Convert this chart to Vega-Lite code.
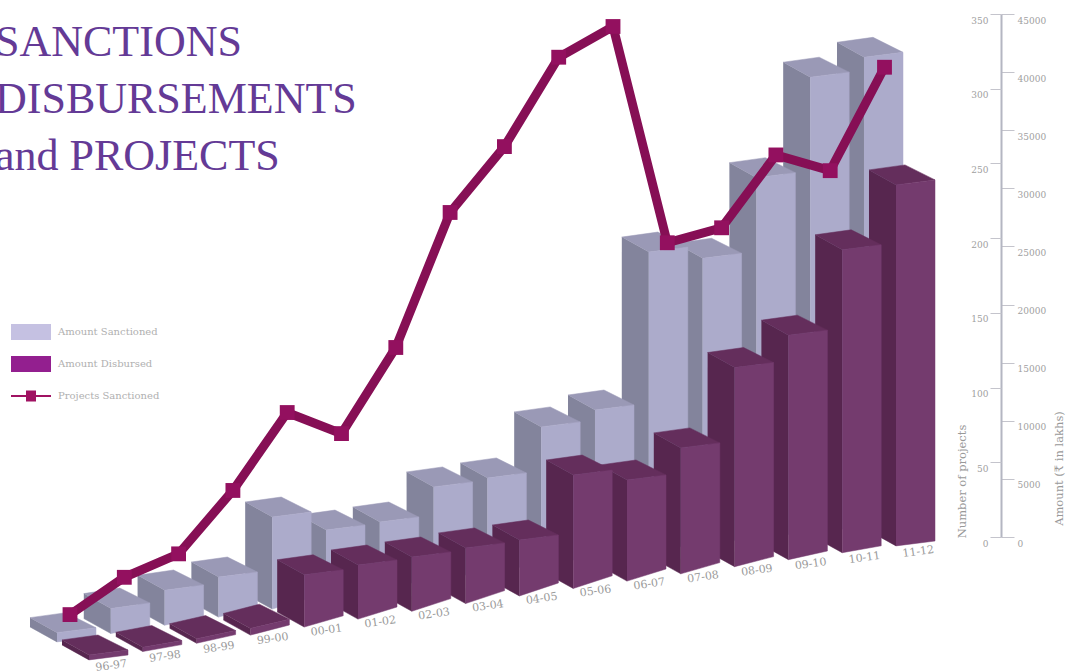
{
  "$schema": "https://vega.github.io/schema/vega-lite/v6.json",
  "width": 807,
  "height": 523,
  "autosize": "none",
  "padding": {"left": 128, "right": 131, "top": 14, "bottom": 135},
  "background": "white",
  "view": {"stroke": null},
  "title": {
    "text": ["SANCTIONS", "DISBURSEMENTS", "and PROJECTS"],
    "anchor": "start",
    "frame": "group",
    "dx": -133,
    "dy": 174,
    "font": "Liberation Serif",
    "fontSize": 44,
    "fontWeight": "normal",
    "lineHeight": 57,
    "color": "#643a96"
  },
  "datasets": {
    "bars": [
      {"year": "11-12", "series": "Amount Sanctioned", "amount": 40500},
      {"year": "10-11", "series": "Amount Sanctioned", "amount": 39200},
      {"year": "09-10", "series": "Amount Sanctioned", "amount": 31000},
      {"year": "08-09", "series": "Amount Sanctioned", "amount": 24550},
      {"year": "07-08", "series": "Amount Sanctioned", "amount": 25600},
      {"year": "06-07", "series": "Amount Sanctioned", "amount": 12560},
      {"year": "05-06", "series": "Amount Sanctioned", "amount": 11690},
      {"year": "04-05", "series": "Amount Sanctioned", "amount": 7920},
      {"year": "03-04", "series": "Amount Sanctioned", "amount": 7800},
      {"year": "02-03", "series": "Amount Sanctioned", "amount": 5470},
      {"year": "01-02", "series": "Amount Sanctioned", "amount": 5500},
      {"year": "00-01", "series": "Amount Sanctioned", "amount": 7380},
      {"year": "99-00", "series": "Amount Sanctioned", "amount": 3010},
      {"year": "98-99", "series": "Amount Sanctioned", "amount": 2720},
      {"year": "97-98", "series": "Amount Sanctioned", "amount": 2030},
      {"year": "96-97", "series": "Amount Sanctioned", "amount": 800},
      {"year": "11-12", "series": "Amount Disbursed", "amount": 31070},
      {"year": "10-11", "series": "Amount Disbursed", "amount": 25900},
      {"year": "09-10", "series": "Amount Disbursed", "amount": 19000},
      {"year": "08-09", "series": "Amount Disbursed", "amount": 16700},
      {"year": "07-08", "series": "Amount Disbursed", "amount": 10300},
      {"year": "06-07", "series": "Amount Disbursed", "amount": 8090},
      {"year": "05-06", "series": "Amount Disbursed", "amount": 9100},
      {"year": "04-05", "series": "Amount Disbursed", "amount": 4130},
      {"year": "03-04", "series": "Amount Disbursed", "amount": 4100},
      {"year": "02-03", "series": "Amount Disbursed", "amount": 4010},
      {"year": "01-02", "series": "Amount Disbursed", "amount": 4040},
      {"year": "00-01", "series": "Amount Disbursed", "amount": 3960},
      {"year": "99-00", "series": "Amount Disbursed", "amount": 500},
      {"year": "98-99", "series": "Amount Disbursed", "amount": 350},
      {"year": "97-98", "series": "Amount Disbursed", "amount": 350},
      {"year": "96-97", "series": "Amount Disbursed", "amount": 430}
    ],
    "projects": [
      {"year": "96-97", "projects": 15},
      {"year": "97-98", "projects": 33},
      {"year": "98-99", "projects": 42},
      {"year": "99-00", "projects": 78},
      {"year": "00-01", "projects": 124},
      {"year": "01-02", "projects": 104},
      {"year": "02-03", "projects": 156},
      {"year": "03-04", "projects": 241},
      {"year": "04-05", "projects": 280},
      {"year": "05-06", "projects": 335},
      {"year": "06-07", "projects": 351},
      {"year": "07-08", "projects": 202},
      {"year": "08-09", "projects": 208},
      {"year": "09-10", "projects": 253},
      {"year": "10-11", "projects": 239},
      {"year": "11-12", "projects": 305}
    ],
    "keys": [
      {"series": "Amount Sanctioned"},
      {"series": "Amount Disbursed"},
      {"series": "Projects Sanctioned"}
    ]
  },
  "layer": [
    {
      "data": {"name": "bars"},
      "transform": [
        {"window": [{"op": "row_number", "as": "n"}], "groupby": ["series"]},
        {"calculate": "16 - datum.n", "as": "i"},
        {"calculate": "datum.series === 'Amount Sanctioned' ? 1 : 0", "as": "s"},
        {"calculate": "118 - 10.6 * datum.i + 0.2 * datum.i * datum.i - 18 * datum.s", "as": "ground"},
        {"calculate": "13 - 0.144 * (datum.i - 7.5) * (datum.i - 7.5)", "as": "sag"},
        {"calculate": "[{f:'side',a:0,d:1,u:0,k:0},{f:'side',a:0,d:0,u:0,k:1},{f:'side',a:0,d:0,u:1,k:2},{f:'side',a:0,d:1,u:1,k:3},{f:'top',a:0,d:0,u:1,k:0},{f:'top',a:1,d:0,u:1,k:1},{f:'top',a:1,d:1,u:1,k:2},{f:'top',a:0,d:1,u:1,k:3},{f:'front',a:0,d:0,u:0,k:0},{f:'front',a:1,d:0,u:0,k:1},{f:'front',a:1,d:0,u:1,k:2},{f:'front',a:0,d:0,u:1,k:3}]", "as": "corner"},
        {"flatten": ["corner"]},
        {"calculate": "datum.i - 0.595 * datum.s - (1 - datum.corner.a) * 0.725 - datum.corner.d * (datum.corner.a ? 30 : 27) / 53.8", "as": "pos"},
        {"calculate": "datum.corner.u * datum.amount - 86.04 * (datum.ground + (1 - datum.corner.a) * (datum.corner.u ? datum.sag + (5 - datum.sag) * min(1, datum.amount / 3000) : datum.sag) - 15 * datum.corner.d)", "as": "level"},
        {"calculate": "datum.series + ' ' + datum.corner.f", "as": "shade"},
        {"calculate": "datum.year + ' ' + datum.shade", "as": "face"},
        {"calculate": "datum.corner.k", "as": "k"}
      ],
      "mark": {"type": "line", "strokeWidth": 0.5},
      "encoding": {
        "x": {"field": "pos", "type": "quantitative", "axis": null, "scale": {"domain": [0, 15], "zero": false, "nice": false}},
        "y": {
          "field": "level",
          "type": "quantitative",
          "scale": {"domain": [0, 45000], "nice": false},
          "axis": {
            "orient": "right",
            "offset": 66,
            "title": "Amount (₹ in lakhs)",
            "titleFont": "DejaVu Serif",
            "titleFontSize": 11.5,
            "titleFontWeight": "normal",
            "titleColor": "#999999",
            "titleX": 58,
            "titleY": 454,
            "titleAngle": -90,
            "titleAlign": "center",
            "titleBaseline": "middle",
            "values": [0, 5000, 10000, 15000, 20000, 25000, 30000, 35000, 40000, 45000],
            "format": "d",
            "grid": false,
            "domainColor": "#b4b6c2",
            "domainWidth": 2,
            "tickColor": "#c4c4cc",
            "tickSize": 13,
            "labelPadding": 3,
            "labelOffset": 6,
            "labelFont": "DejaVu Serif",
            "labelFontSize": 9,
            "labelColor": "#a0a0a0"
          }
        },
        "order": {"field": "k", "type": "quantitative"},
        "detail": {"field": "face"},
        "fill": {
          "field": "shade",
          "type": "nominal",
          "legend": null,
          "scale": {
            "domain": ["Amount Sanctioned side", "Amount Sanctioned top", "Amount Sanctioned front", "Amount Disbursed side", "Amount Disbursed top", "Amount Disbursed front"],
            "range": ["#83849c", "#9a99b6", "#acabcb", "#57264f", "#642e5c", "#743b6e"]
          }
        },
        "stroke": {
          "field": "shade",
          "type": "nominal",
          "legend": null,
          "scale": {
            "domain": ["Amount Sanctioned side", "Amount Sanctioned top", "Amount Sanctioned front", "Amount Disbursed side", "Amount Disbursed top", "Amount Disbursed front"],
            "range": ["#83849c", "#9a99b6", "#acabcb", "#57264f", "#642e5c", "#743b6e"]
          }
        }
      }
    },
    {
      "data": {"name": "bars"},
      "transform": [
        {"filter": "datum.series === 'Amount Disbursed'"},
        {"window": [{"op": "row_number", "as": "n"}]},
        {"calculate": "16 - datum.n", "as": "i"},
        {"calculate": "datum.i - 0.31", "as": "pos"},
        {"calculate": "-86.04 * (118 - 10.6 * datum.i + 0.2 * datum.i * datum.i + 0.6 * (13 - 0.144 * (datum.i - 7.5) * (datum.i - 7.5)) + 8)", "as": "level"}
      ],
      "mark": {"type": "text", "angle": 352, "font": "DejaVu Serif", "fontSize": 11, "color": "#9a9a9a", "align": "center", "baseline": "middle"},
      "encoding": {
        "x": {"field": "pos", "type": "quantitative", "axis": null},
        "y": {"field": "level", "type": "quantitative", "axis": null, "scale": {"domain": [0, 45000], "nice": false}},
        "text": {"field": "year"}
      }
    },
    {
      "data": {"name": "keys"},
      "mark": {"type": "point", "filled": true, "size": 0, "opacity": 1},
      "encoding": {
        "color": {
          "field": "series",
          "type": "nominal",
          "scale": {
            "domain": ["Amount Sanctioned", "Amount Disbursed", "Projects Sanctioned"],
            "range": ["#c5c1e2", "#931f8f", "#a01262"]
          },
          "legend": {
            "orient": "none",
            "legendX": -108,
            "legendY": 307,
            "title": null,
            "symbolSize": 400,
            "rowPadding": 13,
            "labelOffset": 16,
            "labelFont": "DejaVu Serif",
            "labelFontSize": 10,
            "labelColor": "#b0b0b0"
          }
        },
        "shape": {
          "field": "series",
          "type": "nominal",
          "scale": {
            "domain": ["Amount Sanctioned", "Amount Disbursed", "Projects Sanctioned"],
            "range": ["M-2,-0.8H2V0.8H-2Z", "M-2,-0.8H2V0.8H-2Z", "M-2,-0.1H-0.5V-0.55H0.5V-0.1H2V0.1H0.5V0.55H-0.5V0.1H-2Z"]
          }
        }
      }
    },
    {
      "data": {"name": "projects"},
      "transform": [
        {"window": [{"op": "row_number", "as": "n"}]},
        {"calculate": "datum.n - 1", "as": "i"},
        {"calculate": "-1.078 + 1.0093 * datum.i", "as": "pos"},
        {"calculate": "datum.projects - (100 - 10.6 * datum.i + 0.2 * datum.i * datum.i) / 1.494", "as": "level"}
      ],
      "encoding": {
        "x": {"field": "pos", "type": "quantitative", "axis": null},
        "y": {
          "field": "level",
          "type": "quantitative",
          "scale": {"domain": [0, 350], "nice": false},
          "axis": {
            "orient": "left",
            "offset": -873,
            "title": "Number of projects",
            "titleFont": "DejaVu Serif",
            "titleFontSize": 11.5,
            "titleFontWeight": "normal",
            "titleColor": "#999999",
            "titleX": -39,
            "titleY": 467,
            "titleAngle": -90,
            "titleAlign": "center",
            "titleBaseline": "middle",
            "values": [0, 50, 100, 150, 200, 250, 300, 350],
            "grid": false,
            "domain": false,
            "tickColor": "#c4c4cc",
            "tickSize": 11,
            "labelPadding": 2,
            "labelOffset": 6,
            "labelFont": "DejaVu Serif",
            "labelFontSize": 9,
            "labelColor": "#a0a0a0"
          }
        }
      },
      "layer": [
        {"mark": {"type": "line", "color": "#860f55", "strokeWidth": 9, "strokeJoin": "miter"}},
        {"mark": {"type": "square", "color": "#93105f", "size": 220, "opacity": 1}}
      ]
    }
  ],
  "resolve": {"scale": {"y": "independent"}}
}
